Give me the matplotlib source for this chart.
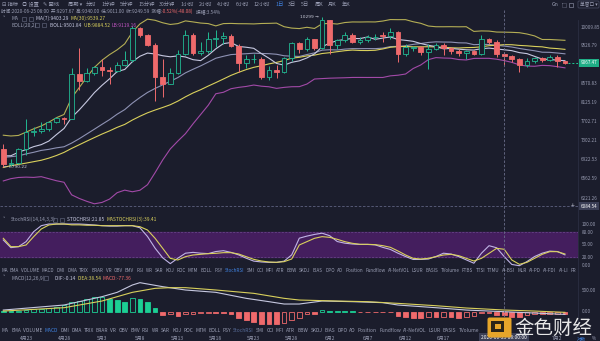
import numpy as np
import pandas as pd
import matplotlib
matplotlib.use('Agg')
import matplotlib.pyplot as plt
from matplotlib.patches import Rectangle, FancyBboxPatch

plt.rcParams['font.family'] = ['Noto Sans CJK SC', 'DejaVu Sans']

# ---------------- data ----------------
start_date = '2020-04-20'
warmup_close = [6186, 5830, 6416, 6734, 6681, 6716, 6469, 6243, 5922, 6429, 6438,
                6607, 6793, 6733, 6868, 6792, 7272, 7176, 7334, 7302, 6865, 6859,
                6971, 6845, 6843, 6642, 7116, 7097, 7257, 7190]
open_ = [7130, 6845, 6865, 7125, 7482, 7505, 7539, 7696, 7774, 7759,
         8785, 8628, 8827, 8965, 8897, 8875, 9010, 9145, 9985, 9807,
         9543, 8723, 8560, 8810, 9310, 9794, 9316, 9381, 9681, 9734,
         9774, 9511, 9068, 9170, 9179, 8720, 8900, 8842, 9205, 9575,
         9427, 9697, 9448, 10208, 9530, 9667, 9790, 9622, 9667, 9740,
         9800, 9771, 9882, 9300, 9465, 9480, 9345, 9427, 9524, 9465,
         9387, 9328, 9370, 9295, 9687, 9624, 9297.67, 9249, 9162, 9012,
         9116, 9192, 9137, 9228, 9118]
high_ = [7225, 6940, 7160, 7750, 7580, 7700, 7720, 7800, 7790, 8950,
         9460, 8940, 9000, 9180, 8960, 9090, 9370, 10040, 10035, 9830,
         9575, 9170, 8950, 9390, 9940, 9845, 9600, 9880, 9950, 9890,
         9830, 9560, 9265, 9300, 9230, 8980, 9017, 9225, 9625, 9605,
         9740, 9700, 10299, 10230, 9690, 9880, 9850, 9740, 9800, 9820,
         9890, 9990, 9900, 9550, 9510, 9510, 9570, 9575, 9575, 9486,
         9440, 9395, 9410, 9790, 9720, 9670, 9340.00, 9283, 9190, 9190,
         9230, 9220, 9265, 9265, 9130]
low_ = [6790.22, 6800, 6835, 7020, 7400, 7450, 7500, 7670, 7650, 7750,
        8420, 8600, 8780, 8750, 8560, 8840, 8990, 9080, 9760, 9510,
        8150, 8240, 8540, 8800, 9260, 9260, 9265, 9330, 9485, 9560,
        9480, 8850, 8940, 9070, 8680, 8640, 8700, 8815, 9110, 9330,
        9380, 9400, 9420, 9300, 9420, 9600, 9580, 9570, 9600, 9660,
        9600, 9700, 9100, 9250, 9370, 9265, 8925, 9395, 9265, 9290,
        9250, 9180, 9270, 9270, 9570, 9220, 9011.00, 9100, 8850, 8965,
        9070, 9090, 9110, 8960, 9050]
close_ = [6845, 6865, 7125, 7482, 7505, 7539, 7696, 7774, 7759, 8785,
          8628, 8827, 8965, 8897, 8870, 9004, 9145, 9985, 9807, 9543,
          8723, 8560, 8810, 9310, 9794, 9316, 9381, 9681, 9734, 9774,
          9511, 9068, 9170, 9179, 8720, 8900, 8842, 9205, 9575, 9427,
          9697, 9448, 10208, 9530, 9667, 9790, 9622, 9667, 9760, 9760,
          9765, 9882, 9300, 9475, 9480, 9345, 9430, 9524, 9465, 9387,
          9328, 9370, 9295, 9690, 9624, 9296, 9249.59, 9162, 9012, 9116,
          9192, 9137, 9228, 9118, 9067.47]
stoch_k = [61.7, 43.3, 45.7, 57.7, 81.6, 96, 100, 100, 100, 100,
           100, 99, 97.6, 96, 95, 95, 96, 96, 91, 70,
           42, 19, 5, 18, 30, 32, 30, 29, 34, 36,
           32, 26, 18, 11, 9, 8, 8, 11, 26, 66,
           71, 75, 78, 72, 58, 54, 52, 51, 51, 50,
           44, 39, 30, 22, 15, 15, 16, 22, 30, 28,
           22, 14, 6, 30, 48, 43, 21.85, 3, 0, 10,
           22, 30, 35, 34, 26]
stoch_d = [65.7, 45.7, 45.7, 49.7, 69.7, 88, 97.6, 100, 100, 98,
           98, 97, 97, 96, 96, 96, 96, 96, 93.6, 85.6,
           65.7, 41.7, 17.7, 13.7, 21.7, 25.7, 27.3, 28.9, 29.7, 31.3,
           31.3, 28.1, 21.7, 15.3, 11.3, 8.9, 8.1, 9.7, 16.1, 49.7,
           57.7, 65.7, 69.7, 68, 63.3, 57.7, 53.7, 51.3, 51.3, 50.5,
           48.1, 44.1, 35.3, 25.7, 17.7, 16.1, 17.7, 21.7, 25.7, 27.3,
           24.1, 17.7, 11.3, 17.7, 29.7, 41.7, 39.41, 13.7, 3.3, 8.1,
           17.7, 27.3, 33.7, 33.7, 28.1]
macd_hist = [15, 15, 23, 38, 54, 69, 85, 108, 154, 215,
             254, 292, 331, 346, 285, 269, 231, 308, 285, 231,
             77, -77, -46, -100, -54, -46, -38, -31, -31, -38,
             -46, -138, -192, -246, -277, -292, -292, -269, -192, -138,
             -54, -54, 38, 8, 8, 8, 8, -8, -8, -8,
             -8, -8, -92, -115, -138, -154, -115, -131, -115, -131,
             -138, -115, -92, -38, -23, -70, -77.36, -115, -115, -70,
             -62, -55, -50, -46, -46]
dif_idx = [0, 8, 13, 15, 17, 18, 21, 24, 28, 32, 35, 37, 39, 42, 46, 50, 52, 57, 61, 66, 70, 74]
dif_val = [38, 154, 346, 446, 615, 669, 577, 500, 446, 308, 231, 177, 177, 246, 231, 208, 154, 92, 38, -0.14, -31, -62]
dea_idx = [0, 8, 13, 17, 20, 22, 24, 28, 33, 37, 39, 44, 48, 52, 57, 61, 66, 70, 74]
dea_val = [15, 92, 246, 446, 538, 554, 554, 500, 423, 308, 269, 246, 231, 192, 138, 85, 38.54, 15, -15]

price_ticks = [10009.85, 9526.79, 8570.83, 8125.19, 7702.71, 7302.21, 6922.53, 6562.59, 6221.26]
stoch_ticks = [100, 80, 50, 20, 0]
macd_ticks = [500, 0]
last_price = 9067.47
cross_price = 6084.54
cross_idx = 66
cross_time = '2020-06-25 08:00:00'

periods = ['分时', '1分钟', '5分钟', '15分钟', '30分钟', '1小时', '2小时', '4小时',
           '6小时', '12小时', '1日', '3日', '5日', '周K', '月K', '年K']
tabs = ['MA', 'EMA', 'VOLUME', 'MACD', 'DMI', 'DMA', 'TRIX', 'BRAR', 'VR', 'OBV', 'EMV',
        'RSI', 'WR', 'SAR', 'KDJ', 'ROC', 'MTM', 'BOLL', 'PSY', 'StochRSI', 'SMI', 'CCI',
        'MFI', 'ATR', 'BBW', 'SKDJ', 'BIAS', 'DPO', 'AO', 'Position', 'Fundflow',
        'AI-NetVOL', 'LSUR', 'BASIS', 'TVolume', 'FTBS', 'TTSI', 'TTMU', 'AI-BSI', 'MLR',
        'AI-PD', 'AI-FDI', 'AI-LI', 'FR']

# ---------------- style ----------------
W, H = 600, 341
BG = '#1b1d2c'
TXT = '#9a9eb4'
GREEN = '#22b892'
MGREEN = '#1ccf94'
RED = '#ef6a6c'
YEL = '#d9d05c'
OLIVE = '#b4ae55'
WHITE_L = '#c6c8e0'
GREY_L = '#8e92b4'
PURP = '#a24aa8'
BLUE = '#3f82e0'
FS = 3.5
FSR = 3.3

fig = plt.figure(figsize=(W / 100, H / 100), dpi=100)
fig.patch.set_facecolor(BG)
renderer = fig.canvas.get_renderer()


def add_ax(x0, y0, x1, y1, z=1):
    ax = fig.add_axes([x0 / W, 1 - y1 / H, (x1 - x0) / W, (y1 - y0) / H], zorder=z)
    ax.set_facecolor('none')
    ax.set_axis_off()
    return ax


n = len(close_)
xs = np.arange(n)
XL = (-0.435, 75.72)

# ---------------- main price panel ----------------
axm = add_ax(0, 10, 578, 210, 2)
axm.set_xlim(*XL)
axm.set_yscale('log')
axm.set_ylim(6019, 10510)

s = pd.Series(list(warmup_close) + list(close_), dtype=float)
ma7 = s.rolling(7).mean().to_numpy()[-n:]
ma30 = s.rolling(30).mean().to_numpy()[-n:]
mid_s = s.rolling(20).mean()
sd_s = s.rolling(20).std(ddof=0)
ub = (mid_s + 2 * sd_s).to_numpy()[-n:]
lb = (mid_s - 2 * sd_s).to_numpy()[-n:]
mid = mid_s.to_numpy()[-n:]

axm.plot(xs, ub, color=OLIVE, lw=0.8, zorder=1)
axm.plot(xs, lb, color=PURP, lw=0.8, zorder=1)
axm.plot(xs, mid, color=GREY_L, lw=0.8, zorder=1)
axm.plot(xs, ma30, color=YEL, lw=0.8, zorder=1)
axm.plot(xs, ma7, color=WHITE_L, lw=0.8, zorder=1)

for i in range(n):
    o, h, l, c = open_[i], high_[i], low_[i], close_[i]
    up = c >= o
    col = GREEN if up else RED
    axm.plot([i, i], [l, h], color=col, lw=0.7, zorder=2, solid_capstyle='butt')
    lo, hi = min(o, c), max(o, c)
    axm.add_patch(Rectangle((i - 0.31, lo), 0.62, hi - lo, facecolor=BG if up else RED,
                            edgecolor=col, lw=0.6, zorder=3))

# extremes
imax = int(np.argmax(high_))
imin = int(np.argmin(low_))
axm.text(imax - 0.45, high_[imax], f'{high_[imax]:.0f} →', ha='right', va='center',
         fontsize=FS - 0.3, color='#c8cad8', family='DejaVu Sans', zorder=5)
axm.text(imin + 0.05, low_[imin], f'← {low_[imin]:.2f}', ha='left', va='center',
         fontsize=FS - 0.3, color='#c8cad8', family='DejaVu Sans', zorder=5)

# last price line and label
axm.plot([n - 1 + 0.4, XL[1]], [last_price, last_price], color=MGREEN, lw=0.7,
         ls=(0, (2, 2)), zorder=4)
yt = axm.get_yaxis_transform()
for p in price_ticks:
    axm.text(1.005, p, f'{p:.2f}', transform=yt, ha='left', va='center', fontsize=FSR,
             color=TXT, clip_on=False)
axm.text(1.004, last_price, f'{last_price:.2f}', transform=yt, ha='left', va='center',
         fontsize=FSR, color='white', clip_on=False,
         bbox=dict(boxstyle='square,pad=0.35', fc='#1fae86', ec='none'))
# crosshair horizontal
axm.axhline(cross_price, color='#5e6280', lw=0.6, ls=(0, (3, 2)), zorder=4)
axm.text(0.991, cross_price, '+', transform=yt, ha='center', va='center', fontsize=5,
         color='#c8cad8', clip_on=False)
axm.text(1.004, cross_price, f'{cross_price:.2f}', transform=yt, ha='left', va='center',
         fontsize=FSR, color='white', clip_on=False,
         bbox=dict(boxstyle='square,pad=0.35', fc='#3a3e55', ec='none'))

# ---------------- StochRSI panel ----------------
axs = add_ax(0, 212, 578, 267, 2)
axs.set_xlim(*XL)
axs.set_ylim(-3.1, 128.8)
axs.axhspan(20, 80, color='#441e5e', zorder=0)
for lv in (20, 80):
    axs.axhline(lv, color='#6c4a8e', lw=0.5, ls=(0, (3, 2)), zorder=1)
axs.plot(xs, stoch_k, color='#c0b4e6', lw=0.8, zorder=2)
axs.plot(xs, stoch_d, color=YEL, lw=0.8, zorder=2)
yts = axs.get_yaxis_transform()
for v in stoch_ticks:
    axs.text(1.007, v, f'{v:.2f}', transform=yts, ha='left', va='center', fontsize=FSR,
             color=TXT, clip_on=False)

# ---------------- MACD panel ----------------
axc = add_ax(0, 274, 578, 328, 2)
axc.set_xlim(*XL)
axc.set_ylim(-375.6, 868.7)
for i, v in enumerate(macd_hist):
    col = MGREEN if v >= 0 else RED
    rising = i > 0 and v > macd_hist[i - 1]
    axc.add_patch(Rectangle((i - 0.31, 0), 0.62, v, facecolor=BG if rising else col,
                            edgecolor=col, lw=0.6, zorder=1))
axc.plot(dif_idx, dif_val, color=WHITE_L, lw=0.8, zorder=2)
axc.plot(dea_idx, dea_val, color=YEL, lw=0.8, zorder=2)
ytc = axc.get_yaxis_transform()
for v in macd_ticks:
    axc.text(1.007, v, f'{v:.2f}', transform=ytc, ha='left', va='center', fontsize=FSR,
             color=TXT, clip_on=False)

# ---------------- full-height helper axes (crosshair, dates) ----------------
axf = add_ax(0, 0, 578, 341, 6)
axf.set_xlim(*XL)
axf.set_ylim(341, 0)
axf.plot([cross_idx, cross_idx], [10, 333], color='#6a6e8a', lw=0.6, ls=(0, (3, 2)))
dates = pd.date_range(start_date, periods=n, freq='D')
for i, d in enumerate(dates):
    if (i - 3) % 5 == 0 and abs(i - cross_idx) > 4:
        axf.text(i, 338.6, f'{d.month}月{d.day}', ha='center', va='center', fontsize=FS,
                 color=TXT)
axf.text(cross_idx, 337.6, cross_time, ha='center', va='center', fontsize=FS, color='white',
         zorder=8, bbox=dict(boxstyle='square,pad=0.45', fc='#3a3e55', ec='none'))

# ---------------- overlay (pixel coordinates) ----------------
ov = fig.add_axes([0, 0, 1, 1], zorder=10)
ov.set_facecolor('none')
ov.set_axis_off()
ov.set_xlim(0, W)
ov.set_ylim(H, 0)


def seq(x, y, parts, fs=FS, ax=None):
    ax = ax or ov
    for txt, col in parts:
        t = ax.text(x, y, txt, fontsize=fs, color=col, ha='left', va='center')
        x += t.get_window_extent(renderer).width
    return x


def row(labels, y, x0, x1, fs, colors, ax=None, gap_scale=1.0, xmax=None):
    ax = ax or ov
    ts = [ax.text(0, y, lab, fontsize=fs, color=colors.get(lab, TXT), ha='left',
                  va='center') for lab in labels]
    ws = [t.get_window_extent(renderer).width for t in ts]
    gap = (x1 - x0 - sum(ws)) / (len(ws) - 1) * gap_scale
    cx = x0
    for t, w in zip(ts, ws):
        t.set_x(cx)
        if xmax is not None and cx + w > xmax:
            t.remove()
        cx += w + gap


def box(x, y, w=4, h=4):
    ov.add_patch(Rectangle((x, y - h / 2), w, h, fill=False, ec='#6a6e86', lw=0.4))


# toolbar
seq(2, 4.5, [('⊟ 指标', TXT)], fs=3.8)
seq(22, 4.5, [('◎ 设置', TXT)], fs=3.8)
seq(43, 4.5, [('✎ 画线', TXT)], fs=3.8)
seq(68, 4.5, [('周期 ▾', TXT)], fs=3.8)
row(periods, 4.5, 86, 350, 3.8, {'1日': BLUE})
ov.text(552, 4.5, 'Gn', fontsize=3.8, color=TXT, ha='left', va='center')
ov.add_patch(Rectangle((562, 2.5), 4, 4, fill=False, ec=TXT, lw=0.4, ls=(0, (1, 1))))
ov.add_patch(Rectangle((569, 2.5), 4, 4, fill=False, ec=TXT, lw=0.4))
ov.add_patch(FancyBboxPatch((578, 1), 21, 7, boxstyle='round,pad=0,rounding_size=1',
                            fc='none', ec='#4a4e66', lw=0.5))
ov.text(588.5, 4.6, '单窗口 ▾', fontsize=3.4, color=TXT, ha='center', va='center')

# info line
seq(1, 11.5, [('时间:2020-06-25 08:00  开:9297.67  高:9340.00  低:9011.00  收:9249.59  涨幅:', TXT),
              ('-0.52%(-48.08)', RED), ('  振幅:3.54%', TXT)], fs=3.4)

# MA row
ov.text(3, 18.5, '˅', fontsize=FS, color=TXT, ha='left', va='center')
ov.text(11, 18.5, 'MA', fontsize=FS, color=TXT, ha='left', va='center')
box(22, 18.5)
box(29, 18.5)
seq(36, 18.5, [('MA(7):9403.29  ', WHITE_L), ('MA(30):9539.27', YEL)])
# BOLL row
ov.text(11, 25.3, 'BOLL(20,2)', fontsize=FS, color=TXT, ha='left', va='center')
box(35, 25.3)
box(42, 25.3)
seq(50, 25.3, [('BOLL:9501.84  ', WHITE_L), ('UB:9884.52  ', YEL), ('LB:9119.16', '#c455c4')])

# StochRSI title
ov.text(3, 219.5, '˅', fontsize=FS, color=TXT, ha='left', va='center')
ov.text(11, 219.5, 'StochRSI(14,14,3,3)', fontsize=FS, color=TXT, ha='left', va='center')
box(53, 219.5)
box(60, 219.5)
seq(67, 219.5, [('STOCHRSI:21.85  ', WHITE_L), ('MASTOCHRSI(3):39.41', YEL)])

# MACD title
ov.text(3, 278, '˅', fontsize=FS, color=TXT, ha='left', va='center')
ov.text(11, 278, 'MACD(12,26,9)', fontsize=FS, color=TXT, ha='left', va='center')
box(44, 278)
seq(55, 278, [('DIF:-0.14  ', WHITE_L), ('DEA:38.54  ', YEL), ('MACD:-77.36', RED)])

# indicator tab rows
row(tabs, 270.5, 1, 576, 3.3, {'StochRSI': BLUE})
row(tabs, 331, 2, 576, 3.5, {'MACD': BLUE, 'StochRSI': '#5a6f9c'}, gap_scale=1.35, xmax=485)

# right-side border
ov.plot([578, 578], [20, 333], color='#2b2e42', lw=0.6)
ov.text(577, 338.5, '对数', fontsize=3.3, color=BLUE, ha='left', va='center')
ov.text(592, 338.5, '%', fontsize=3.3, color=TXT, ha='left', va='center')

# watermark
ov.add_patch(FancyBboxPatch((487.5, 317.5), 24, 20, boxstyle='round,pad=0,rounding_size=2',
                            fc='#e6a52a', ec='none', zorder=20))
ov.add_patch(Rectangle((491, 320.5), 13, 11, fc='#2a2418', ec='none', zorder=21))
ov.add_patch(Rectangle((494.5, 323.5), 6, 5.5, fc='#e6a52a', ec='none', zorder=22))
ov.text(514, 328, '金色财经', fontsize=14, color='#f2f2f2', ha='left', va='center',
        zorder=23, alpha=0.95)

fig.savefig('out.png', dpi=100, facecolor=BG)
